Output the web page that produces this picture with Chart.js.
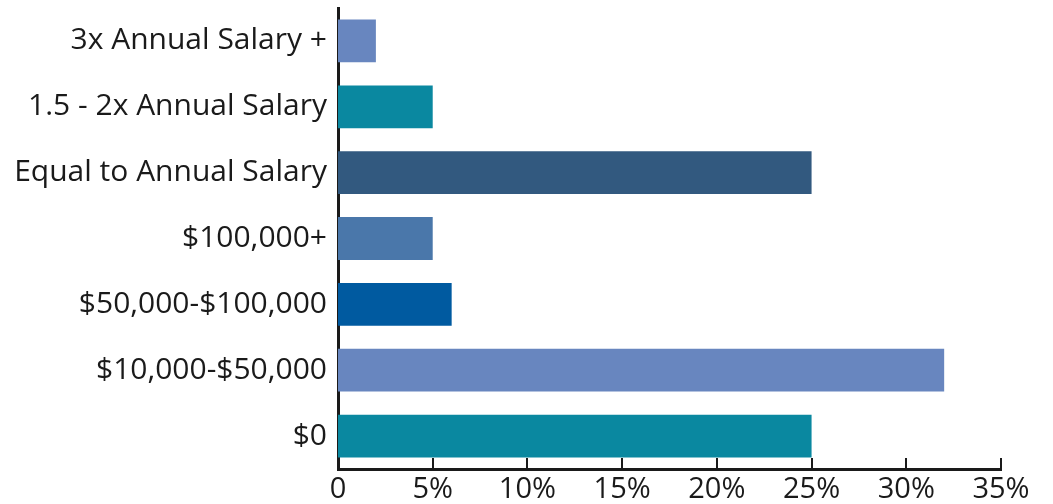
<!DOCTYPE html>
<html>
<head>
<meta charset="utf-8">
<script src="https://cdn.jsdelivr.net/npm/chart.js@4/dist/chart.umd.min.js"></script>
<style>
  html, body { margin: 0; padding: 0; background: #fff; }
  #wrap { width: 1053px; height: 504px; }
</style>
</head>
<body>
<div id="wrap"><canvas id="savingsChart" width="1053" height="504"></canvas></div>
<script>
var categories = ['3x Annual Salary +', '1.5 - 2x Annual Salary', 'Equal to Annual Salary', '$100,000+', '$50,000-$100,000', '$10,000-$50,000', '$0'];
var percents = [2, 5, 25, 5, 6, 32, 25];
var barColors = ['#6886bf', '#0a88a0', '#32597f', '#4a77aa', '#005aa0', '#6886bf', '#0a88a0'];
var xTicks = [0, 5, 10, 15, 20, 25, 30, 35];

var fontFamily = "'Open Sans', Lato, sans-serif";
var axisColor = '#1a1a1a';

// short tick marks pointing up into the plot from the bottom axis
var innerTicks = {
	id: 'innerTicks',
	afterDraw: function(chart) {
		var ctx = chart.ctx;
		var x = chart.scales.x;
		var bottom = chart.chartArea.bottom;
		ctx.save();
		ctx.strokeStyle = axisColor;
		ctx.lineWidth = 2;
		for (var i = 0; i < xTicks.length; i++) {
			var px = Math.round(x.getPixelForValue(xTicks[i]));
			ctx.beginPath();
			ctx.moveTo(px, bottom);
			ctx.lineTo(px, bottom - 11);
			ctx.stroke();
		}
		ctx.restore();
	}
};

var ctx = document.getElementById('savingsChart');

var savingsChart = new Chart(ctx, {
	type: 'bar',
	data: {
		labels: categories,
		datasets: [{
			data: percents,
			backgroundColor: barColors,
			borderWidth: 0,
			categoryPercentage: 1,
			barPercentage: 0.65
		}]
	},
	options: {
		indexAxis: 'y',
		responsive: false,
		animation: false,
		layout: { padding: { top: 8, right: 52, left: 0, bottom: 0 } },
		plugins: {
			legend: { display: false },
			tooltip: { enabled: false }
		},
		scales: {
			x: {
				min: 0,
				max: 35,
				afterBuildTicks: function(scale) {
					scale.ticks = xTicks.map(function(v) { return { value: v }; });
				},
				afterFit: function(scale) {
					scale.height = 35;
					scale.paddingLeft = 0;
					scale.paddingRight = 0;
				},
				grid: { display: false },
				border: { display: true, color: axisColor, width: 3 },
				ticks: {
					padding: -5,
					color: '#1a1a1a',
					font: { family: fontFamily, size: 29 },
					callback: function(v) { return v === 0 ? '0' : v + '%'; }
				}
			},
			y: {
				afterFit: function(scale) {
					scale.width = 338;
					scale.paddingTop = 0;
					scale.paddingBottom = 0;
				},
				grid: { display: false },
				border: { display: true, color: axisColor, width: 3 },
				ticks: {
					padding: 3,
					color: '#1a1a1a',
					font: { family: fontFamily, size: 30 }
				}
			}
		}
	},
	plugins: [innerTicks]
});
</script>
</body>
</html>
